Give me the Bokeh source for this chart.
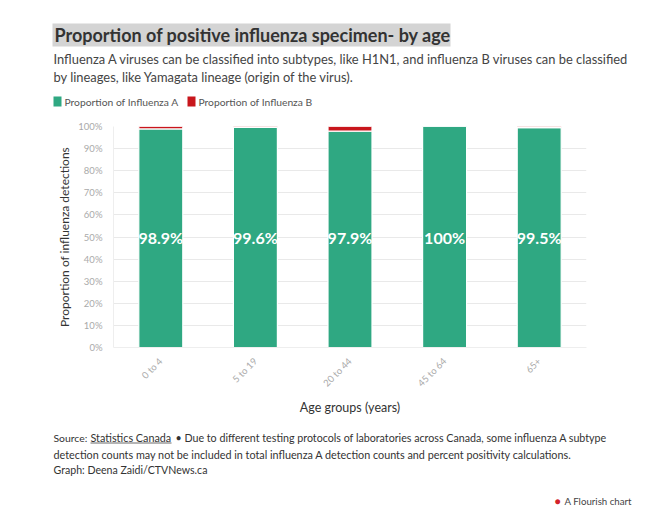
from bokeh.plotting import figure
from bokeh.layouts import column, row
from bokeh.models import Label, PrintfTickFormatter, FixedTicker, ColumnDataSource, LabelSet, Range1d
from bokeh.core.properties import value
from bokeh.embed import file_html
from bokeh.resources import INLINE
from math import pi

categories = ["0 to 4", "5 to 19", "20 to 44", "45 to 64", "65+"]
flu_a = [98.9, 99.6, 97.9, 100.0, 99.5]
flu_b = [1.1, 0.4, 2.1, 0.0, 0.5]
y_ticks = [0, 10, 20, 30, 40, 50, 60, 70, 80, 90, 100]
series_names = ["Proportion of Influenza A", "Proportion of Influenza B"]

GREEN = "#2fa882"
RED = "#c8161c"
FONT = "Lato"
W = 634
HEAD_H, MAIN_H, FOOT_H = 115, 305, 88


def blank(h):
    f = figure(width=W, height=h, x_range=Range1d(0, W), y_range=Range1d(h, 0),
               output_backend="svg", toolbar_location=None,
               x_axis_type=None, y_axis_type=None, min_border=0)
    f.grid.visible = False
    f.outline_line_color = None
    return f


def lab(f, text, x, y, size, color="#333333", style="normal", align="left"):
    f.add_layout(Label(x=x, y=y, text=text, text_font=FONT, text_font_size=size,
                       text_color=color, text_font_style=style, text_baseline="middle",
                       text_align=align))


# ---------- header ----------
head = blank(HEAD_H)
head.quad(left=[52], right=[450], top=[23], bottom=[46], fill_color="#d4d4d4", line_color=None)
lab(head, "Proportion of positive influenza specimen- by age", 54, 34.5, "18px", "#333333", "bold")
lab(head, "Influenza A viruses can be classified into subtypes, like H1N1, and influenza B viruses can be classified", 53, 58, "12.9px", "#444444")
lab(head, "by lineages, like Yamagata lineage (origin of the virus).", 53, 76, "12.9px", "#444444")
head.quad(left=[53, 187], right=[61, 195], top=[96, 96], bottom=[106, 106],
          fill_color=[GREEN, RED], line_color=None)
lab(head, series_names[0], 64, 101, "10.3px", "#555555")
lab(head, series_names[1], 198, 101, "10.3px", "#555555")

# ---------- main chart ----------
src = ColumnDataSource(dict(cat=categories, a=flu_a, b=flu_b,
                            lbl=[f"{v:g}%" for v in flu_a],
                            mid=[50] * len(categories)))

p = figure(x_range=categories, y_range=(0, 100), width=W, height=MAIN_H,
           output_backend="svg", toolbar_location=None,
           min_border_left=113, min_border_right=48, min_border_top=11, min_border_bottom=73)
p.outline_line_color = None
p.x_range.range_padding = 0

p.vbar_stack(["a", "b"], x="cat", width=0.465, source=src, color=[GREEN, RED],
             line_color="white", line_width=1.2)

p.add_layout(LabelSet(x="cat", y="mid", text="lbl", source=src, text_align="center",
                      text_baseline="middle", text_color="white", text_font_size="16px",
                      text_font_style="bold", text_font=value(FONT)))

p.xgrid.grid_line_color = None
p.ygrid.grid_line_color = "#e9e9e9"
p.yaxis.ticker = FixedTicker(ticks=y_ticks)
p.yaxis.formatter = PrintfTickFormatter(format="%d%%")
for ax in (p.xaxis, p.yaxis):
    ax.major_tick_line_color = None
    ax.minor_tick_line_color = None
    ax.major_label_text_font = FONT
    ax.major_label_text_font_size = "9.5px"
    ax.major_label_text_color = "#aaaaaa"
    ax.axis_label_text_font = FONT
    ax.axis_label_text_font_size = "12px"
    ax.axis_label_text_color = "#333333"
    ax.axis_label_text_font_style = "normal"
    ax.axis_line_color = "#eeeeee"
p.xaxis.axis_label_text_font_size = "12.5px"
p.yaxis.axis_label = "Proportion of influenza detections"
p.xaxis.axis_label = "Age groups (years)"
p.xaxis.major_label_orientation = pi / 4
p.yaxis.major_label_standoff = 5
p.yaxis.axis_label_standoff = 3
p.xaxis.major_label_standoff = 6
p.xaxis.axis_label_standoff = 4

# ---------- footer ----------
OFF = HEAD_H + MAIN_H
foot = blank(FOOT_H)
lab(foot, "Source:", 53, 437 - OFF, "10.4px")
lab(foot, "Statistics Canada", 90, 437 - OFF, "10.8px")
foot.segment(x0=[90], x1=[171], y0=[442.5 - OFF], y1=[442.5 - OFF], line_color="#444444", line_width=0.8)
lab(foot, "\u2022 Due to different testing protocols of laboratories across Canada, some influenza A subtype", 175, 437 - OFF, "10.7px")
lab(foot, "detection counts may not be included in total influenza A detection counts and percent positivity calculations.", 53, 454 - OFF, "10.8px")
lab(foot, "Graph: Deena Zaidi/CTVNews.ca", 53, 469 - OFF, "10.6px")
lab(foot, "\u25cf", 557, 500.5 - OFF, "10px", "#d2232a", align="center")
lab(foot, "A Flourish chart", 564, 500.5 - OFF, "9.7px", "#444444")

layout = column(row(head), p, row(foot), spacing=0)
open("out.html", "w").write(file_html(layout, INLINE))
